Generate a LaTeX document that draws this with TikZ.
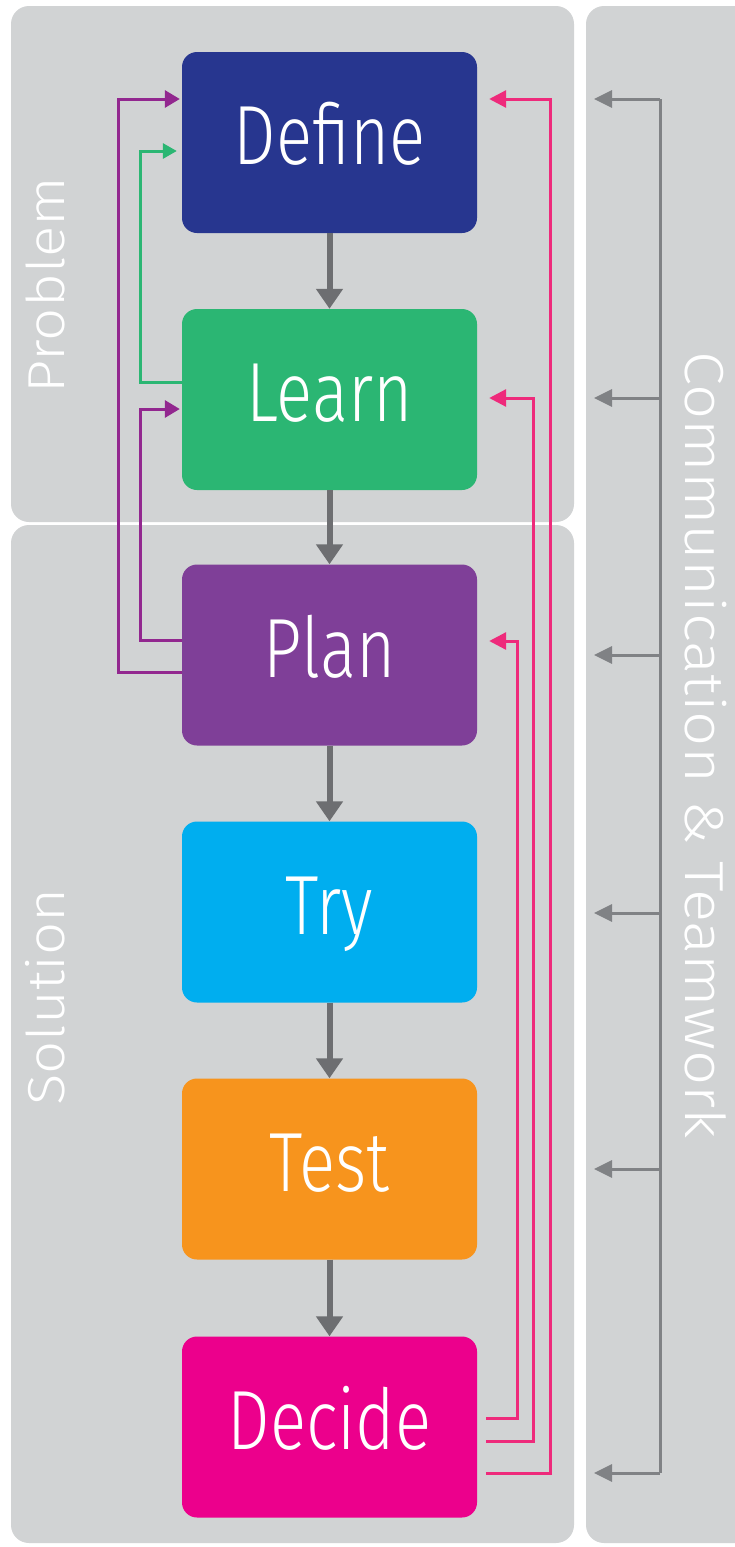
\documentclass[tikz,border=0pt]{standalone}
\usepackage{fontspec}
\setmainfont{Open Sans}
\newfontfamily\boxfont{Fira Sans Light}[FakeStretch=0.8]
\newfontfamily\sidefont{Fira Sans Light}[FakeStretch=1.12]
\usetikzlibrary{arrows.meta,calc}
\definecolor{panelgray}{HTML}{D1D3D4}
\definecolor{cDefine}{HTML}{27368F}
\definecolor{cLearn}{HTML}{2BB673}
\definecolor{cPlan}{HTML}{7F3F98}
\definecolor{cTry}{HTML}{00AEEF}
\definecolor{cTest}{HTML}{F7941D}
\definecolor{cDecide}{HTML}{EC008C}
\definecolor{downgray}{HTML}{6D6E71}
\definecolor{sidegray}{HTML}{808285}
\definecolor{pinkline}{HTML}{EE2A7B}
\definecolor{purpleline}{HTML}{92278F}
\begin{document}
\begin{tikzpicture}[x=1pt,y=-1pt,
  panelbox/.style={fill=panelgray, draw=none, rounded corners=18pt, inner sep=0pt},
  stepbox/.style={draw=none, rounded corners=15pt, minimum width=295pt, minimum height=181pt,
    inner sep=0pt, text=white, font=\fontsize{84}{84}\boxfont, text height=44pt, text depth=0pt},
  sidetext/.style={text=white, inner sep=0pt, anchor=base},
  downarr/.style={draw=downgray, line width=6pt, -{Triangle[width=26pt,length=20pt]}},
  sidearr/.style={draw=sidegray, line width=3pt, -{Triangle[width=17pt,length=18pt]}},
  sideline/.style={draw=sidegray, line width=3pt},
  pinkarr/.style={draw=pinkline, line width=3pt, -{Triangle[width=17pt,length=17pt]}},
  purparr/.style={draw=purpleline, line width=3pt, -{Triangle[width=17pt,length=15pt]}},
  greenarr/.style={draw=cLearn, line width=3pt, -{Triangle[width=15pt,length=14pt]}}
]
\useasboundingbox (0,0) rectangle (735,1547);
\fill[white] (0,0) rectangle (735,1547);
\begin{scope}
\clip (0,0) rectangle (735,1547);
% panels
\node[panelbox, minimum width=563pt, minimum height=516pt] (problem) at (292.5,264) {};
\node[panelbox, minimum width=563pt, minimum height=1018pt] (solution) at (292.5,1034) {};
\node[panelbox, minimum width=180pt, minimum height=1537pt] (comm) at (676,774.5) {};
\end{scope}
% side labels
\node[sidetext, rotate=90, font=\fontsize{52}{52}\sidefont] (problemT) at (64,285) {Problem};
\node[sidetext, rotate=90, font=\fontsize{52}{52}\sidefont] (solutionT) at (64,997) {Solution};
\node[sidetext, rotate=-90, font=\fontsize{55}{55}\sidefont] (commT) at (685,745) {Communication \& Teamwork};
% step boxes
\node[stepbox, fill=cDefine] (define) at (329.5,142.5) {Define};
\node[stepbox, fill=cLearn] (learn) at (329.5,399.5) {Learn};
\node[stepbox, fill=cPlan] (plan) at (329.5,655) {Plan};
\node[stepbox, fill=cTry] (try) at (329.5,912) {Try};
\node[stepbox, fill=cTest] (test) at (329.5,1169) {Test};
\node[stepbox, fill=cDecide] (decide) at (329.5,1427) {Decide};
% down arrows
\draw[downarr] (define.south) -- (learn.north);
\draw[downarr] (learn.south) -- (plan.north);
\draw[downarr] (plan.south) -- (try.north);
\draw[downarr] (try.south) -- (test.north);
\draw[downarr] (test.south) -- (decide.north);
% left feedback lines
\draw[purparr, shorten >=2pt] (plan.west |- 0,672) -- (118,672) -- (118,99) -- (define.west |- 0,99);
\draw[purparr, shorten >=2pt] (plan.west |- 0,640) -- (140,640) -- (140,409) -- (learn.west |- 0,409);
\draw[greenarr, shorten >=5pt] (learn.west |- 0,382) -- (140,382) -- (140,151) -- (define.west |- 0,151);
% right feedback lines from Decide
\draw[pinkarr, shorten <=9pt, shorten >=12pt] (decide.east |- 0,1473) -- (550,1473) -- (550,99) -- (define.east |- 0,99);
\draw[pinkarr, shorten <=9pt, shorten >=12pt] (decide.east |- 0,1441) -- (533,1441) -- (533,398) -- (learn.east |- 0,398);
\draw[pinkarr, shorten <=9pt, shorten >=12pt] (decide.east |- 0,1418) -- (517,1418) -- (517,641) -- (plan.east |- 0,641);
% communication arrows
\coordinate (gtop) at (660,99);
\coordinate (gbot) at (660,1473);
\draw[sideline] (gtop) -- (gbot);
\foreach \yy/\nm in {99/ga,398/gb,655/gc,913/gd,1169/ge,1473/gf}{
  \coordinate (\nm) at (594,\yy);
  \draw[sidearr] (gtop |- \nm) -- (\nm);
}
\end{tikzpicture}
\end{document}
